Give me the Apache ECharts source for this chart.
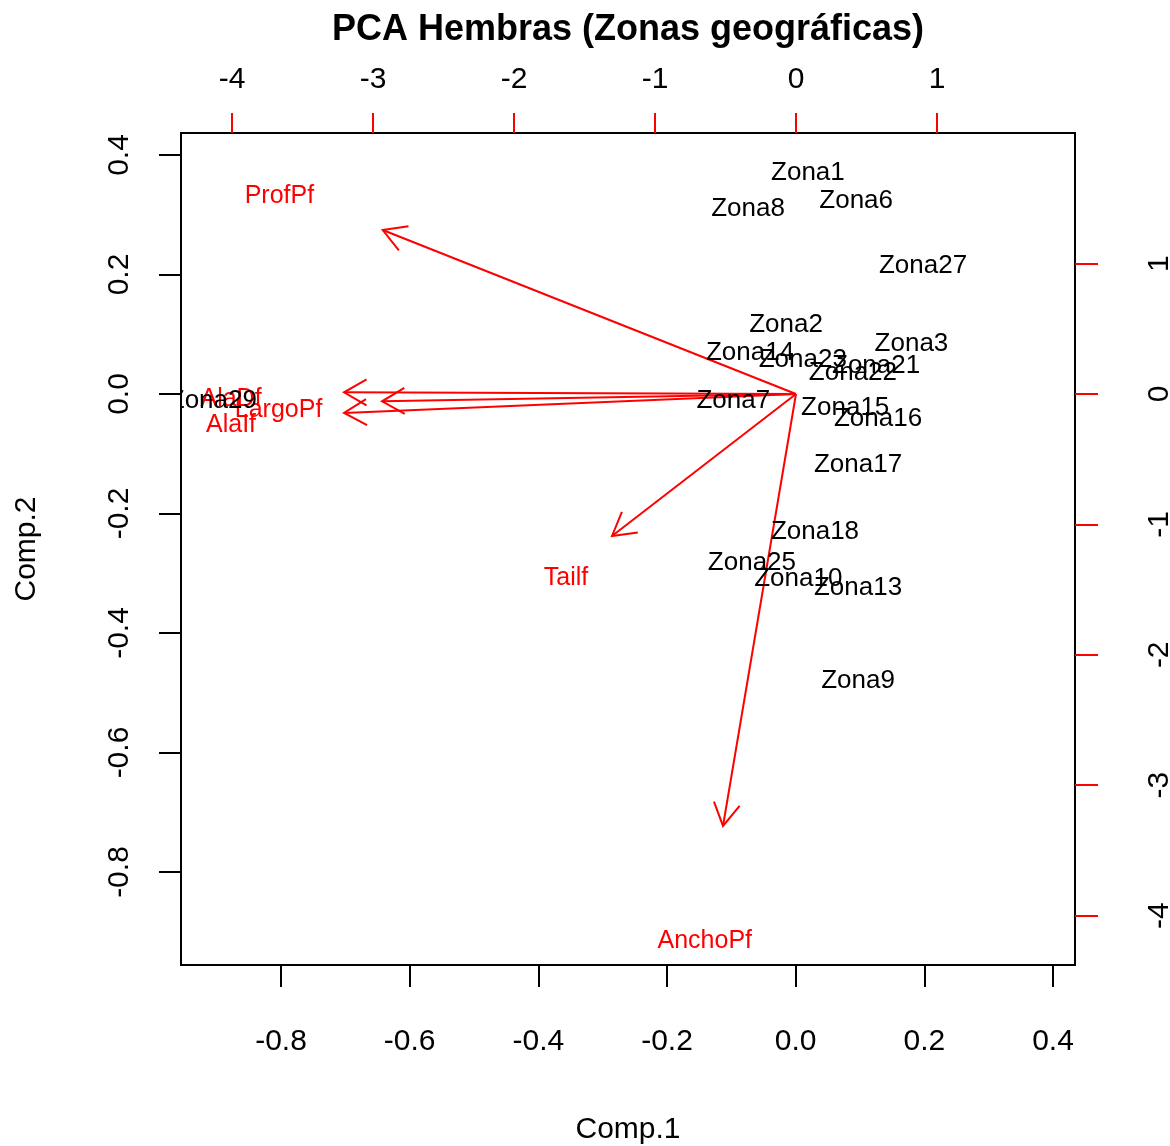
<!DOCTYPE html>
<html>
<head>
<meta charset="utf-8">
<script src="https://cdn.jsdelivr.net/npm/echarts@6/dist/echarts.min.js"></script>
<style>
html,body{margin:0;padding:0;background:#fff;}
#chart{width:1170px;height:1146px;}
</style>
</head>
<body>
<div id="chart"></div>
<script>
// ---- data ----
const zonas = ['Zona1','Zona6','Zona8','Zona27','Zona2','Zona3','Zona14','Zona23','Zona21','Zona22','Zona7','Zona15','Zona16','Zona17','Zona18','Zona25','Zona10','Zona13','Zona9','Zona29'];
const comp1 = [0.019,0.094,-0.074,0.198,-0.015,0.180,-0.071,0.011,0.125,0.089,-0.097,0.077,0.128,0.097,0.030,-0.068,0.004,0.097,0.097,-0.906];
const comp2 = [0.373,0.326,0.313,0.218,0.119,0.087,0.073,0.060,0.050,0.038,-0.008,-0.019,-0.038,-0.115,-0.228,-0.279,-0.306,-0.321,-0.477,-0.008];

const variables = ['ProfPf','AlaDf','LargoPf','AlaIf','Tailf','AnchoPf'];
const load1 = [-3.664,-4.007,-3.670,-4.007,-1.631,-0.647];
const load2 = [1.572,0.016,-0.070,-0.182,-1.361,-4.141];

const bottomTicks = [-0.8,-0.6,-0.4,-0.2,0.0,0.2,0.4];
const leftTicks = [-0.8,-0.6,-0.4,-0.2,0.0,0.2,0.4];
const topTicks = [-4,-3,-2,-1,0,1];
const rightTicks = [-4,-3,-2,-1,0,1];

const FONT = '"Liberation Sans", Arial, sans-serif';
const RED = '#ff0000';
const TICKFS = 30;

const chart = echarts.init(document.getElementById('chart'), null, {renderer:'canvas'});

const pointData = zonas.map((z,i)=>[comp1[i], comp2[i], z]);
const loadData = variables.map((v,i)=>[load1[i], load2[i], v]);

function tickAxis(opts){
  return Object.assign({
    type:'value', scale:true,
    splitLine:{show:false},
    axisLine:{show:false, onZero:false}
  }, opts);
}

const option = {
  backgroundColor:'#fff',
  animation:false,
  graphic:[
    {type:'text', x:628, y:30, style:{text:'PCA Hembras (Zonas geográficas)', font:'bold 36px ' + FONT, fill:'#000', textAlign:'center', textVerticalAlign:'middle'}}
  ],
  grid:{left:181, top:133, width:894, height:832, containLabel:false, outerBoundsMode:'none', show:true, borderColor:'#000', borderWidth:2, backgroundColor:'transparent'},
  xAxis:[
    tickAxis({position:'bottom', min:-0.9555, max:0.4342,
      name:'Comp.1', nameLocation:'middle', nameGap:150,
      nameTextStyle:{fontFamily:FONT, fontSize:TICKFS, color:'#000'},
      axisTick:{show:true, length:22, customValues:bottomTicks, lineStyle:{color:'#000', width:2}},
      axisLabel:{customValues:bottomTicks, fontFamily:FONT, fontSize:TICKFS, color:'#000', margin:62, formatter:v=>Number(v).toFixed(1)}}),
    tickAxis({position:'top', min:-4.362, max:1.979,
      axisTick:{show:true, length:20, customValues:topTicks, lineStyle:{color:RED, width:2}},
      axisLabel:{customValues:topTicks, fontFamily:FONT, fontSize:TICKFS, color:'#000', margin:38, formatter:v=>String(Math.round(v))}})
  ],
  yAxis:[
    tickAxis({position:'left', min:-0.9556, max:0.4368,
      name:'Comp.2', nameLocation:'middle', nameGap:139, nameRotate:90,
      nameTextStyle:{fontFamily:FONT, fontSize:TICKFS, color:'#000'},
      axisTick:{show:true, length:22, customValues:leftTicks, lineStyle:{color:'#000', width:2}},
      axisLabel:{customValues:leftTicks, rotate:90, fontFamily:FONT, fontSize:TICKFS, color:'#000', margin:46, formatter:v=>Number(v).toFixed(1)}}),
    tickAxis({position:'right', min:-4.379, max:2.0015,
      axisTick:{show:true, length:23, customValues:rightTicks, lineStyle:{color:RED, width:2}},
      axisLabel:{customValues:rightTicks, rotate:90, fontFamily:FONT, fontSize:TICKFS, color:'#000', margin:70, formatter:v=>String(Math.round(v))}})
  ],
  series:[
    {
      type:'custom', name:'arrows', xAxisIndex:1, yAxisIndex:1, clip:true, silent:true, z:2,
      data:loadData,
      renderItem:function(params, api){
        const x = api.value(0), y = api.value(1);
        const p0 = api.coord([0,0]);
        const p1 = api.coord([x*0.8, y*0.8]);
        const ang = Math.atan2(p1[1]-p0[1], p1[0]-p0[0]);
        const L = 26, a = Math.PI/6;
        const h1 = [p1[0]-L*Math.cos(ang-a), p1[1]-L*Math.sin(ang-a)];
        const h2 = [p1[0]-L*Math.cos(ang+a), p1[1]-L*Math.sin(ang+a)];
        const pl = api.coord([x,y]);
        return {type:'group', children:[
          {type:'line', shape:{x1:p0[0], y1:p0[1], x2:p1[0], y2:p1[1]}, style:{stroke:RED, lineWidth:2}},
          {type:'polyline', shape:{points:[h1,p1,h2]}, style:{stroke:RED, lineWidth:2, fill:null}},
          {type:'text', x:pl[0], y:pl[1] + 7, style:{text:api.value(2), font:'25px ' + FONT, fill:RED, textAlign:'center', textVerticalAlign:'middle'}}
        ]};
      }
    },
    {
      type:'custom', name:'zonas', xAxisIndex:0, yAxisIndex:0, clip:true, silent:true, z:3,
      data:pointData,
      renderItem:function(params, api){
        const p = api.coord([api.value(0), api.value(1)]);
        return {type:'text', x:p[0], y:p[1] + 2, style:{text:api.value(2), font:'26px ' + FONT, fill:'#000', textAlign:'center', textVerticalAlign:'middle'}};
      }
    }
  ]
};
chart.setOption(option);
</script>
</body>
</html>
